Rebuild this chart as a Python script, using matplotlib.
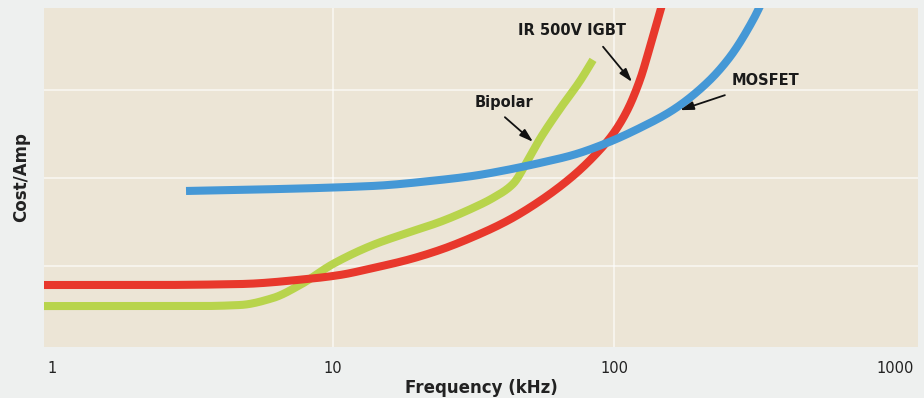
import numpy as np
import matplotlib.pyplot as plt

# Cost per amp vs switching frequency (arbitrary cost units)
igbt_f = [0.9, 2.23, 4.67, 8.08, 10.59, 13.88, 18.34, 24.0, 31.5, 41.6, 54.5, 71.5, 87.0, 99.2, 111.2, 123.7, 134.3, 145.8, 151.9]
igbt_c = [0.784, 0.784, 0.795, 0.852, 0.898, 0.977, 1.068, 1.182, 1.33, 1.511, 1.739, 2.023, 2.284, 2.5, 2.761, 3.114, 3.489, 3.886, 4.09]

mosfet_f = [3.0, 4.67, 13.88, 24.0, 31.5, 41.6, 54.5, 71.5, 94.4, 123.7, 162.2, 214.2, 258.7, 312.5, 344.6]
mosfet_c = [1.852, 1.864, 1.909, 1.977, 2.023, 2.091, 2.17, 2.261, 2.398, 2.568, 2.773, 3.08, 3.375, 3.795, 4.07]

bipolar_f = [0.9, 2.23, 3.36, 4.67, 6.11, 7.63, 10.0, 13.88, 18.34, 24.0, 31.5, 37.1, 43.7, 49.0, 54.5, 64.2, 75.7, 84.2]
bipolar_c = [0.545, 0.545, 0.545, 0.557, 0.636, 0.784, 1.023, 1.239, 1.375, 1.5, 1.659, 1.773, 1.932, 2.182, 2.443, 2.784, 3.102, 3.341]

xticks = [1, 10, 100, 1000]
xtick_labels = ["1", "10", "100", "1000"]


def smooth(f, c, n=25):
    # monotone cubic (pchip) through the read points in log-frequency, only for drawing
    x = np.log10(f)
    y = np.asarray(c, float)
    h = np.diff(x)
    d = np.diff(y) / h
    m = np.zeros_like(y)
    m[0], m[-1] = d[0], d[-1]
    for k in range(1, len(y) - 1):
        if d[k - 1] * d[k] > 0:
            w1 = 2 * h[k] + h[k - 1]
            w2 = h[k] + 2 * h[k - 1]
            m[k] = (w1 + w2) / (w1 / d[k - 1] + w2 / d[k])
    xs, ys = [], []
    t = np.linspace(0, 1, n, endpoint=False)
    for k in range(len(h)):
        h00 = 2 * t**3 - 3 * t**2 + 1
        h10 = t**3 - 2 * t**2 + t
        h01 = -2 * t**3 + 3 * t**2
        h11 = t**3 - t**2
        xs.extend(x[k] + t * h[k])
        ys.extend(h00 * y[k] + h10 * h[k] * m[k] + h01 * y[k + 1] + h11 * h[k] * m[k + 1])
    xs.append(x[-1])
    ys.append(y[-1])
    return 10 ** np.array(xs), np.array(ys)


fig = plt.figure(figsize=(9.24, 3.98), dpi=100, facecolor="#eef0ef")
ax = fig.add_axes([44 / 924, 51 / 398, 874 / 924, 339 / 398])
ax.set_facecolor("#ece5d6")

ax.set_xscale("log")
ax.set_xlim(0.937, 1207)
ax.set_ylim(0.08, 3.93)

# faint white grid
for x in [10, 100]:
    ax.axvline(x, color="white", lw=1.1, alpha=0.7, zorder=1)
for y in [1, 2, 3]:
    ax.axhline(y, color="white", lw=1.1, alpha=0.7, zorder=1)

lw = 5.8
ax.plot(*smooth(bipolar_f, bipolar_c), color="#b8d44c", lw=lw, solid_capstyle="butt", zorder=3)
ax.plot(*smooth(igbt_f, igbt_c), color="#e8382c", lw=lw, solid_capstyle="butt", zorder=4)
ax.plot(*smooth(mosfet_f, mosfet_c), color="#4598d6", lw=lw, solid_capstyle="butt", zorder=5)

for s in ax.spines.values():
    s.set_visible(False)
ax.set_yticks([])
ax.set_xticks(xticks)
ax.set_xticklabels(xtick_labels, fontsize=10.5, color="#222222")
ax.xaxis.set_minor_locator(plt.NullLocator())
ax.tick_params(axis="x", length=0, pad=10)
ax.set_xlabel("Frequency (kHz)", fontsize=12, fontweight="bold", color="#222222", labelpad=2)
ax.set_ylabel("Cost/Amp", fontsize=12, fontweight="bold", color="#222222", labelpad=10)

arrow = dict(arrowstyle="-|>,head_width=0.25,head_length=0.8", color="#111111", lw=1.3, shrinkA=0, shrinkB=0)
lbl = dict(fontsize=10.5, fontweight="bold", ha="center", va="center", color="#1a1a1a", zorder=6)

ax.text(70.9, 3.68, "IR 500V IGBT", **lbl)
ax.annotate("", xy=(115.9, 3.09), xytext=(91.4, 3.49), arrowprops=arrow, zorder=6)
ax.text(347, 3.11, "MOSFET", **lbl)
ax.annotate("", xy=(171.7, 2.77), xytext=(248, 2.94), arrowprops=arrow, zorder=6)
ax.text(40.6, 2.86, "Bipolar", **lbl)
ax.annotate("", xy=(51.5, 2.41), xytext=(40.9, 2.69), arrowprops=arrow, zorder=6)

fig.savefig("out.png", dpi=100, facecolor=fig.get_facecolor())
